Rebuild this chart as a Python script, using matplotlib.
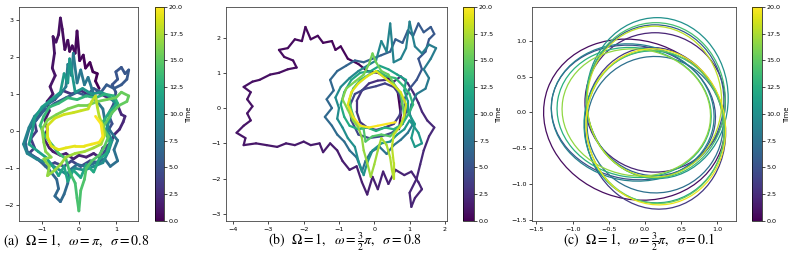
import numpy as np
import matplotlib
import matplotlib.pyplot as plt
from matplotlib.collections import LineCollection
from matplotlib.patches import Ellipse

matplotlib.use("Agg")

plt.rcParams["mathtext.fontset"] = "stix"

# ---------- panel (a): Omega=1, omega=pi, sigma=0.8 ----------
a_loops = [
    "0.55,1.15 0.45,1.35 0.50,1.55 0.38,1.60 0.30,1.85 0.18,1.70 0.12,2.05 0.02,1.90 -0.05,2.70 -0.10,2.10 "
    "-0.18,2.30 -0.25,2.15 -0.30,2.45 -0.38,2.20 -0.45,2.75 -0.50,3.05 -0.55,2.60 -0.62,2.40 -0.70,2.55 "
    "-0.66,2.10 -0.72,1.70 -0.64,1.50 -0.78,1.20 -0.70,1.00 -0.86,0.80 -0.80,0.55 -0.92,0.30 -0.85,0.05 "
    "-0.95,-0.20 -0.80,-0.45 -0.70,-0.55 -0.50,-0.65 -0.35,-0.60 -0.15,-0.75 0.00,-0.65 0.20,-0.70 "
    "0.40,-0.60 0.55,-0.70 0.65,-0.45 0.85,-0.35 0.95,-0.10 1.10,0.05 1.20,0.25 1.25,0.40 1.15,0.45 "
    "1.05,0.70 0.90,0.85 0.70,0.95",
    "0.70,0.95 0.50,1.05 0.30,0.95 0.05,1.10 -0.20,1.00 -0.45,1.10 -0.65,0.85 -0.90,0.70 -1.05,0.45 "
    "-1.20,0.25 -1.15,0.00 -1.30,-0.20 -1.20,-0.45 -1.35,-0.60 -1.10,-0.75 -0.90,-0.95 -0.65,-0.85 "
    "-0.40,-0.95 -0.20,-0.80 0.05,-0.95 0.30,-0.80 0.55,-0.85 0.70,-0.55 0.85,-0.30 0.75,-0.05 "
    "0.90,0.20 0.80,0.45",
    "0.80,0.45 0.95,0.75 1.00,1.05 0.90,1.25 1.05,1.40 1.00,1.60 1.15,1.72 1.25,1.55 1.35,1.65 1.30,1.40 "
    "1.15,1.25 0.95,1.15 0.75,1.25 0.60,1.05 0.40,1.15 0.20,0.95 -0.05,1.05 -0.35,0.90 -0.65,0.75 "
    "-0.95,0.55 -1.15,0.30 -1.35,0.05 -1.45,-0.30 -1.40,-0.55 -1.20,-0.70 -1.00,-0.85 -0.80,-1.05 "
    "-0.60,-1.30 -0.55,-1.55 -0.65,-1.75 -0.50,-1.90 -0.40,-1.70 -0.30,-1.40 -0.25,-1.05 -0.05,-0.90 "
    "0.20,-0.95 0.45,-0.85 0.70,-0.75 0.85,-0.95 1.05,-0.80 0.95,-0.50 1.05,-0.25 0.85,0.00",
    "0.85,0.00 0.70,0.30 0.65,0.60 0.45,0.85 0.35,1.15 0.25,1.45 0.15,1.25 0.05,1.65 -0.05,1.30 "
    "-0.15,2.10 -0.20,1.50 -0.30,1.80 -0.35,1.20 -0.50,1.00 -0.75,0.80 -1.00,0.60 -1.20,0.40 -1.35,0.10 "
    "-1.50,-0.35 -1.40,-0.60 -1.15,-0.75 -0.85,-0.85 -0.60,-1.00 -0.35,-1.15 -0.10,-1.00 0.15,-1.05 "
    "0.40,-0.95 0.65,-0.85 0.80,-0.55 0.90,-0.25 0.75,0.05",
    "0.75,0.05 0.85,0.40 1.00,0.75 0.80,0.95 0.60,1.05 0.35,1.00 0.10,1.15 -0.10,1.05 -0.25,1.95 "
    "-0.30,1.30 -0.40,1.55 -0.50,1.05 -0.75,0.85 -1.00,0.65 -1.20,0.35 -1.25,0.05 -1.35,-0.35 "
    "-1.10,-0.55 -0.90,-0.70 -0.70,-0.95 -0.55,-1.20 -0.40,-0.95 -0.30,-1.35 -0.15,-1.05 0.05,-1.25 "
    "0.20,-0.90 0.40,-1.10 0.55,-0.75 0.75,-0.60 0.85,-0.30 0.70,0.00 0.65,0.25",
    "0.65,0.25 0.85,0.55 1.05,0.75 0.95,0.95 0.70,1.00 0.45,0.90 0.20,0.95 -0.05,0.85 -0.30,0.90 "
    "-0.55,0.75 -0.80,0.65 -0.95,0.40 -1.05,0.15 -0.90,-0.15 -0.70,-0.40 -0.55,-0.60 -0.35,-0.75 "
    "-0.25,-1.10 -0.10,-1.40 -0.05,-1.80 0.00,-2.15 0.05,-1.60 0.15,-1.30 0.20,-1.00 0.35,-0.80 "
    "0.55,-0.65 0.70,-0.40 0.80,-0.15 0.65,0.10",
    "0.65,0.10 0.90,0.50 1.10,0.70 1.30,0.80 1.35,0.95 1.15,1.05 1.00,0.90 0.75,0.85 0.50,0.80 "
    "0.25,0.70 0.00,0.70 -0.30,0.60 -0.60,0.45 -0.85,0.30 -1.00,0.05 -0.95,-0.30 -0.90,-0.55 "
    "-0.75,-0.70 -0.95,-0.75 -0.80,-0.95 -0.85,-1.20 -0.65,-1.05 -0.50,-0.90 -0.35,-0.70 -0.10,-0.60 "
    "0.15,-0.55 0.40,-0.45 0.60,-0.35 0.70,-0.10",
    "0.70,-0.10 0.65,0.15 0.55,0.40 0.50,0.65 0.45,0.95 0.35,0.80 0.25,0.60 0.05,0.55 -0.15,0.50 "
    "-0.40,0.45 -0.65,0.35 -0.85,0.15 -0.85,-0.15 -0.75,-0.40 -0.55,-0.50 -0.35,-0.45 -0.10,-0.40 "
    "0.15,-0.40 0.35,-0.35 0.55,-0.30 0.65,-0.15 0.60,0.20 0.45,0.40",
]
a_times = [(0, 2.5), (2.5, 5), (5, 7.5), (7.5, 10), (10, 12.5), (12.5, 15), (15, 17.5), (17.5, 20)]

# ---------- panel (b): Omega=1, omega=3/2 pi, sigma=0.8 ----------
b_loops = [
    "0.70,-0.60 0.75,-0.20 0.70,0.20 0.65,0.55 0.40,0.85 0.10,1.00 -0.20,1.05 -0.45,1.25 -0.75,1.40 "
    "-0.95,1.75 -1.10,1.65 -1.20,1.90 -1.45,1.85 -1.60,2.05 -1.80,1.95 -1.95,2.30 -2.05,1.90 -2.25,1.95 "
    "-2.45,1.70 -2.70,1.65 -2.55,1.45 -2.30,1.35 -2.20,1.15 -2.45,1.10 -2.70,1.00 -2.95,0.95 -3.25,0.80 "
    "-3.45,0.75 -3.70,0.60 -3.50,0.45 -3.60,0.25 -3.45,0.05 -3.60,-0.15 -3.50,-0.35 -3.70,-0.50 "
    "-3.90,-0.70 -3.65,-0.85 -3.70,-1.05 -3.35,-1.00 -3.05,-1.05 -2.75,-1.10 -2.50,-1.00 -2.25,-1.05 "
    "-2.00,-0.95 -1.80,-1.05 -1.55,-1.00 -1.45,-1.25 -1.25,-1.00 -1.05,-1.20 -0.90,-1.50 -0.70,-1.75 "
    "-0.50,-1.65 -0.35,-2.10 -0.20,-2.45 -0.05,-1.95 0.10,-2.30 0.25,-1.80 0.40,-2.15 0.60,-1.75 "
    "0.85,-1.90 1.05,-1.80 1.25,-2.10 1.35,-2.30 1.15,-2.55 1.05,-2.80 1.00,-2.40 1.20,-2.00 1.30,-1.60 "
    "1.40,-1.20 1.55,-0.80 1.70,-0.55 1.50,-0.35 1.35,-0.10 1.25,0.15 1.10,0.45 0.95,0.70 0.75,0.90",
    "0.75,0.90 0.55,0.75 0.35,0.80 0.10,0.78 -0.15,0.70 -0.35,0.50 -0.50,0.20 -0.50,-0.10 -0.40,-0.40 "
    "-0.20,-0.55 0.05,-0.62 0.30,-0.55 0.55,-0.45 0.72,-0.20 0.78,0.10 0.70,0.40 0.55,0.60 0.30,0.70 "
    "0.05,0.62 -0.25,0.55 -0.55,0.40 -0.70,0.05 -0.65,-0.35 -0.45,-0.75 -0.15,-0.85 0.20,-0.80 "
    "0.50,-0.70 0.80,-0.45 0.90,-0.10 0.85,0.25",
    "0.85,0.25 1.00,0.55 1.20,0.80 1.35,1.10 1.25,1.40 1.45,1.60 1.55,1.95 1.70,2.10 1.60,2.30 1.40,2.15 "
    "1.25,2.40 1.10,2.05 0.95,2.20 0.80,1.85 0.60,1.95 0.45,1.60 0.20,1.50 -0.05,1.40 -0.30,1.30 "
    "-0.55,1.35 -0.80,1.20 -1.05,1.05 -1.25,0.80 -1.15,0.50 -1.35,0.25 -1.20,0.00 -1.40,-0.25 "
    "-1.20,-0.50 -1.05,-0.75 -0.85,-0.95 -0.70,-1.20 -0.50,-1.40 -0.35,-1.80 -0.25,-1.50 -0.10,-1.25 "
    "0.15,-1.10 0.35,-1.30 0.55,-1.05 0.75,-0.90 0.95,-0.70 1.10,-0.45 1.00,-0.15 1.05,0.10",
    "1.05,0.10 1.20,0.40 1.45,0.55 1.55,0.85 1.40,1.10 1.60,1.40 1.75,1.70 1.55,1.80 1.35,1.55 1.15,1.75 "
    "1.00,2.45 0.90,1.70 0.75,1.40 0.55,1.30 0.45,2.40 0.35,1.60 0.20,1.90 0.05,1.35 -0.20,1.20 "
    "-0.45,1.05 -0.70,0.85 -0.95,0.60 -1.10,0.30 -1.00,0.00 -1.05,-0.30 -0.90,-0.55 -0.75,-0.85 "
    "-0.55,-1.10 -0.45,-1.50 -0.30,-1.90 -0.20,-1.55 -0.05,-1.20 0.20,-1.00 0.45,-0.95 0.65,-0.75 "
    "0.85,-0.60 1.00,-0.35 1.25,-0.70 1.35,-1.00 1.15,-1.10 1.05,-0.85 1.15,-0.45 0.95,-0.10",
    "0.95,-0.10 0.95,0.20 0.85,0.50 0.90,0.80 0.65,0.95 0.40,1.10 0.15,1.20 -0.10,1.05 -0.40,1.00 "
    "-0.65,0.80 -0.85,0.45 -0.95,0.10 -0.85,-0.25 -0.70,-0.50 -0.45,-0.60 -0.20,-0.55 0.05,-0.65 "
    "0.30,-0.55 0.55,-0.60 0.80,-0.45 0.95,-0.20 1.10,0.10 1.00,0.40 0.80,0.65 0.60,0.85 0.35,0.90 "
    "0.10,1.05 -0.15,0.95 -0.40,0.80 -0.60,0.55 -0.70,0.25 -0.65,-0.05 -0.55,-0.35 -0.30,-0.60 "
    "-0.25,-0.95 -0.05,-0.80 0.20,-0.75 0.45,-0.80 0.70,-0.55 0.85,-0.25",
    "0.85,-0.25 0.80,0.10 0.75,0.40 0.55,0.70 0.40,0.95 0.20,1.05 0.05,1.30 -0.05,1.55 -0.15,1.25 "
    "-0.30,0.95 -0.55,0.75 -0.80,0.55 -0.90,0.25 -0.75,-0.05 -0.60,-0.35 -0.45,-0.55 -0.35,-0.85 "
    "-0.30,-1.20 -0.20,-1.55 -0.10,-1.95 0.00,-1.60 0.10,-1.20 0.20,-0.85 0.35,-1.05 0.45,-1.40 "
    "0.50,-1.75 0.55,-2.00 0.55,-1.55 0.50,-1.10 0.55,-0.75 0.75,-0.50 0.85,-0.20 0.90,0.10 0.75,0.45 "
    "0.55,0.65 0.30,0.85 0.05,1.05 -0.20,0.90 -0.45,0.70 -0.65,0.45 -0.75,0.10 -0.60,-0.25 -0.40,-0.50 "
    "-0.15,-0.55 0.10,-0.50 0.35,-0.45 0.60,-0.40",
]
b_times = [(0, 2.5), (2.5, 5), (5, 8), (8, 11), (11, 15), (15, 20)]

# ---------- panel (c): Omega=1, omega=3/2 pi, sigma=0.1 ----------
# one closed loop per revolution (left / upper-right / lower-right lobes in turn)
c_cx = [-0.15, 0.14, 0.14, -0.16, 0.14, 0.14, -0.17, 0.17, 0.13, -0.15, 0.15, 0.14, -0.12, 0.13, 0.15]
c_cy = [-0.10, 0.14, -0.22, 0.00, 0.17, -0.17, 0.00, 0.20, -0.20, 0.00, 0.17, -0.20, 0.00, 0.15, -0.20]
c_rx = [1.27, 0.97, 0.97, 1.14, 0.95, 0.94, 1.13, 0.98, 0.97, 1.07, 0.96, 0.95, 1.03, 0.93, 0.96]
c_ry = [1.10, 0.97, 1.13, 0.93, 1.05, 0.95, 0.95, 1.12, 1.06, 0.90, 1.08, 1.07, 0.88, 1.05, 1.09]
c_ang = [-20, 0, 10, -10, 0, 10, -10, 0, 10, -10, 0, 10, -10, 0, 10]
c_time = [0.7, 2.0, 3.3, 4.7, 6.0, 7.3, 8.7, 10.0, 11.3, 12.7, 14.0, 15.3, 16.7, 18.0, 19.3]

cbar_ticks = [0.0, 2.5, 5.0, 7.5, 10.0, 12.5, 15.0, 17.5, 20.0]
captions = [
    r"(a)  $\Omega = 1,\ \ \omega = \pi,\ \ \sigma = 0.8$",
    r"(b)  $\Omega = 1,\ \ \omega = \frac{3}{2}\pi,\ \ \sigma = 0.8$",
    r"(c)  $\Omega = 1,\ \ \omega = \frac{3}{2}\pi,\ \ \sigma = 0.1$",
]

norm = plt.Normalize(0, 20)
cmap = plt.get_cmap("viridis")


def parse(s):
    return np.array([[float(v) for v in p.split(",")] for p in s.split()])


def build(loops, times):
    pts, ts = [], []
    for s, (t0, t1) in zip(loops, times):
        p = parse(s)
        pts.append(p)
        ts.append(np.linspace(t0, t1, len(p)))
    return np.vstack(pts), np.concatenate(ts)


def style(ax, cax, mappable):
    cb = fig.colorbar(mappable, cax=cax, ticks=cbar_ticks)
    cb.set_label("Time", fontsize=4.8, labelpad=2)
    cb.ax.tick_params(labelsize=4.6, length=2, width=0.5, pad=1.5)
    cb.outline.set_linewidth(0.5)
    ax.tick_params(labelsize=4.6, length=2.5, width=0.5, pad=1.5)
    for sp in ax.spines.values():
        sp.set_linewidth(0.6)
        sp.set_color("#444444")


def draw_path(ax, cax, pts, ts, lw):
    segs = np.stack([pts[:-1], pts[1:]], axis=1)
    lc = LineCollection(segs, cmap=cmap, norm=norm, linewidths=lw,
                        capstyle="round", joinstyle="round")
    lc.set_array(ts[:-1])
    ax.add_collection(lc)
    style(ax, cax, lc)


fig = plt.figure(figsize=(7.93, 2.64), dpi=100)
bot, hgt = 0.163, 0.811

ax_a = fig.add_axes([0.024, bot, 0.150, hgt])
cax_a = fig.add_axes([0.1955, bot, 0.0114, hgt])
ax_b = fig.add_axes([0.285, bot, 0.2787, hgt])
cax_b = fig.add_axes([0.584, bot, 0.0139, hgt])
ax_c = fig.add_axes([0.671, bot, 0.2573, hgt])
cax_c = fig.add_axes([0.948, bot, 0.0126, hgt])

pa, ta = build(a_loops, a_times)
draw_path(ax_a, cax_a, pa, ta, 2.0)
ax_a.set_xlim(-1.62, 1.6)
ax_a.set_ylim(-2.42, 3.35)
ax_a.set_xticks([-1, 0, 1])
ax_a.set_yticks([-2, -1, 0, 1, 2, 3])

pb, tb = build(b_loops, b_times)
draw_path(ax_b, cax_b, pb, tb, 1.6)
ax_b.set_xlim(-4.2, 2.06)
ax_b.set_ylim(-3.2, 2.87)
ax_b.set_xticks([-4, -3, -2, -1, 0, 1, 2])
ax_b.set_yticks([-3, -2, -1, 0, 1, 2])

for cx, cy, rx, ry, ang, t in zip(c_cx, c_cy, c_rx, c_ry, c_ang, c_time):
    ax_c.add_patch(Ellipse((cx, cy), 2 * rx, 2 * ry, angle=ang, fill=False,
                           edgecolor=cmap(norm(t)), linewidth=0.9))
sm = plt.cm.ScalarMappable(norm=norm, cmap=cmap)
style(ax_c, cax_c, sm)
ax_c.set_xlim(-1.56, 1.26)
ax_c.set_ylim(-1.51, 1.47)
ax_c.set_xticks([-1.5, -1.0, -0.5, 0.0, 0.5, 1.0])
ax_c.set_yticks([-1.5, -1.0, -0.5, 0.0, 0.5, 1.0])

cap_x = [0.004, 0.338, 0.71]
for x, txt in zip(cap_x, captions):
    fig.text(x, 0.072, txt, fontsize=10, family="STIXGeneral", va="baseline", ha="left")

fig.savefig("out.png", dpi=100)
